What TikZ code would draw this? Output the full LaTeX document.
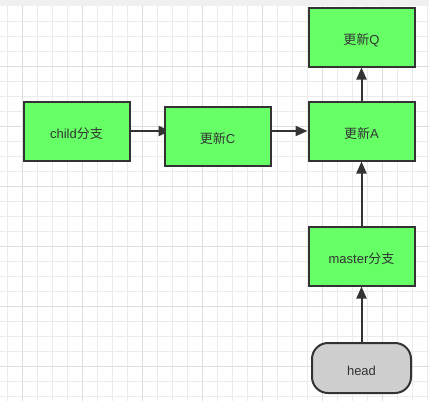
\documentclass[tikz,border=0pt]{standalone}
\usepackage{fontspec}
\setmainfont{Liberation Sans}
\newfontfamily\cjk{Noto Sans CJK SC}
\usetikzlibrary{arrows.meta,backgrounds,calc}
\pgfdeclarelayer{edges}
\pgfsetlayers{background,edges,main}
\definecolor{boxgreen}{HTML}{66FF66}
\definecolor{headgray}{HTML}{CFCFCF}
\definecolor{ink}{HTML}{333333}
\definecolor{minorgrid}{HTML}{EBEBEB}
\definecolor{majorgrid}{HTML}{DEDEDE}
\definecolor{topband}{HTML}{F0F0F0}
\tikzset{
  box/.style={draw=ink, line width=1.5pt, fill=boxgreen, minimum width=79.5pt, minimum height=44.25pt, inner sep=0pt, text=ink, font=\fontsize{9.75}{12}\selectfont, text height=11.5pt, text depth=1pt},
  headbox/.style={draw=ink, line width=1.5pt, fill=headgray, rounded corners=12pt, minimum width=74.25pt, minimum height=37.5pt, inner sep=0pt, text=ink, font=\fontsize{9.75}{12}\selectfont, text height=11.5pt, text depth=1pt},
  conn/.style={draw=ink, line width=1.5pt, -{Triangle[length=9pt,width=7.5pt]}},
}
\begin{document}
\begin{tikzpicture}[x=0.75pt,y=-0.75pt]
\useasboundingbox (0,0) rectangle (429,401);
\begin{scope}[on background layer]
  \fill[white] (0,0) rectangle (429,401);
  \foreach \x in {7.5,22.5,...,429} \draw[minorgrid, line width=0.75pt] (\x,6) -- (\x,401);
  \foreach \y in {21.5,36.5,...,401} \draw[minorgrid, line width=0.75pt] (0,\y) -- (429,\y);
  \foreach \x in {22.5,82.5,...,429} \draw[majorgrid, line width=0.75pt] (\x,6) -- (\x,401);
  \foreach \y in {66.5,126.5,...,401} \draw[majorgrid, line width=0.75pt] (0,\y) -- (429,\y);
  \fill[topband] (0,0) rectangle (429,6);
\end{scope}
\node[box] (child) at (76.5,131) {child{\cjk 分支}};
\node[box] (C) at (217.5,136) {{\cjk 更新}C};
\node[box] (Q) at (361.5,37) {{\cjk 更新}Q};
\node[box] (A) at (361.5,131) {{\cjk 更新}A};
\node[box] (master) at (361.5,256) {master{\cjk 分支}};
\node[headbox] (head) at (361.5,368) {head};
\begin{pgfonlayer}{edges}
  \draw[conn] (child.east) -- ($(C.west |- child.east)+(7,0)$);
\end{pgfonlayer}
\draw[conn] (C.east |- A.west) -- (A.west);
\draw[conn] (A.north) -- (Q.south);
\draw[conn] (master.north) -- (A.south);
\draw[conn] (head.north) -- (master.south);
\end{tikzpicture}
\end{document}
